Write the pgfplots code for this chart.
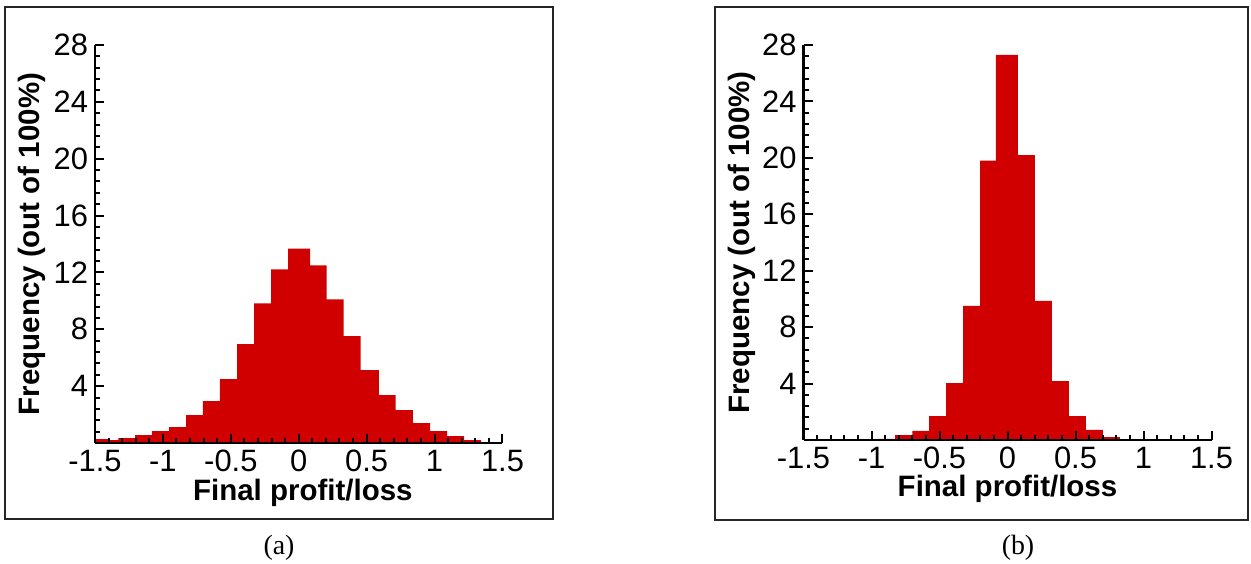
\documentclass[border=0pt]{standalone}
\usepackage{fontspec}
\setmainfont{Liberation Sans}
\newfontfamily\capfont{Liberation Serif}
\usepackage{pgfplots}
\pgfplotsset{compat=1.18}
\definecolor{barred}{RGB}{208,0,0}

\pgfplotsset{hist/.style={
  scale only axis,
  axis lines=left,
  axis line style={-, line width=1.3bp},
  axis on top,
  tick align=inside,
  major tick length=4.5bp,
  minor tick length=2.5bp,
  every tick/.style={black, line width=1bp},
  xmin=-1.5, xmax=1.5, ymin=0, ymax=28,
  xtick={-1.5,-1,-0.5,0,0.5,1,1.5},
  minor xtick={-1.4,-1.3,...,1.45},
  ytick={4,8,...,28},
  minor ytick={0.8,1.6,...,27.5},
  ticklabel style={font=\fontsize{15.5}{18}\selectfont},
  /pgf/number format/assume math mode=true,
  xlabel={Final profit/loss},
  ylabel={Frequency (out of 100\%)},
  label style={font=\fontsize{14.8}{17}\selectfont\bfseries},
  xlabel style={anchor=center},
  ylabel style={anchor=center},
}}

\begin{document}
\begin{tikzpicture}
\path[use as bounding box] (0,0) rectangle (625.5bp,282bp);

% frames
\draw[line width=0.7bp, black!85] (2.5bp,22.5bp) rectangle (276.5bp,278.5bp);
\draw[line width=0.7bp, black!85] (357.5bp,22bp) rectangle (624bp,278.5bp);

% (a)
\begin{axis}[hist, at={(47.5bp,60.5bp)}, anchor=south west,
  width=203.75bp, height=199bp,
  xlabel style={at={(axis description cs:0.51,-0.125)}},
  ylabel style={at={(axis description cs:-0.155,0.5)}}]
\addplot[ybar interval, fill=barred, draw=none] coordinates {
  (-1.500,0.28) (-1.406,0.21) (-1.328,0.35) (-1.205,0.56) (-1.082,0.84)
  (-0.955,1.12) (-0.830,1.96) (-0.705,2.95) (-0.580,4.49) (-0.454,6.95)
  (-0.329,9.82) (-0.204,12.21) (-0.079,13.68) (0.083,12.49) (0.206,10.10)
  (0.331,7.51) (0.456,5.12) (0.589,3.37) (0.714,2.32) (0.841,1.40)
  (0.967,0.84) (1.092,0.49) (1.217,0.21) (1.342,0)
};
\end{axis}

% (b)
\begin{axis}[hist, at={(401.75bp,62bp)}, anchor=south west,
  width=204bp, height=197.5bp,
  xlabel style={at={(axis description cs:0.5,-0.125)}},
  ylabel style={at={(axis description cs:-0.152,0.5)}}]
\addplot[ybar interval, fill=barred, draw=none] coordinates {
  (-0.950,0.08) (-0.827,0.35) (-0.700,0.64) (-0.577,1.70) (-0.452,4.04)
  (-0.327,9.50) (-0.202,19.8) (-0.085,27.3) (0.077,20.2) (0.202,9.86)
  (0.327,4.18) (0.452,1.70) (0.577,0.71) (0.702,0.21) (0.827,0)
};
\end{axis}

\node[font=\capfont\fontsize{14}{17}\selectfont] at (139.5bp,8bp) {(a)};
\node[font=\capfont\fontsize{14}{17}\selectfont] at (509bp,8bp) {(b)};
\end{tikzpicture}
\end{document}
